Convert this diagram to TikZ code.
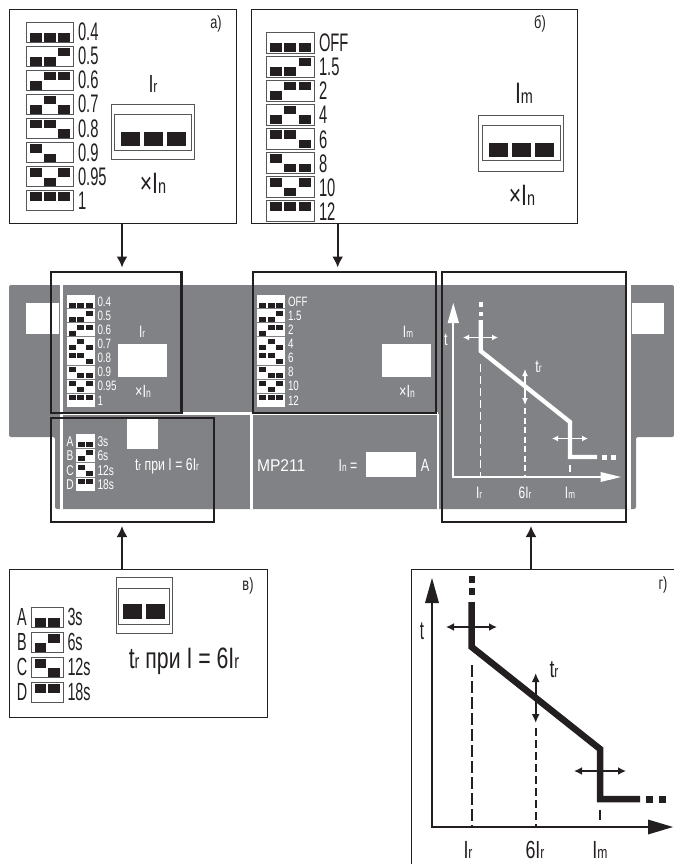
\documentclass[tikz,border=0pt]{standalone}
\usepackage{fontspec}
\usepackage{graphicx}
\usetikzlibrary{arrows.meta}
\setmainfont[FakeStretch=0.58]{Liberation Sans}
\newfontfamily\plainsans[FakeStretch=0.92]{Liberation Sans}
\newfontfamily\midfont[FakeStretch=0.72]{Liberation Sans}
\definecolor{panelgray}{HTML}{808285}
\definecolor{ink}{HTML}{231F20}
\definecolor{edge}{HTML}{55565A}
\newcommand\fs[1]{\pgfmathparse{#1*1.18}\fontsize{\pgfmathresult}{\pgfmathresult}\selectfont}
\newcommand\Sb[2]{#1\scalebox{.68}{#2}}
% rectangle node from corner coordinates: style, name, x1,y1,x2,y2
\newcommand\pxbox[6]{%
  \pgfmathsetmacro\pw{#5-#3}\pgfmathsetmacro\ph{#6-#4}%
  \node[#1,minimum width=\pw pt,minimum height=\ph pt,inner sep=0pt,outer sep=0pt,anchor=north west] (#2) at (#3,#4) {};}
% one switch square: x, rowtop, state, w, upoffset, h, downoffset
\newcommand\swq[7]{%
  \ifcase#3\relax
    \fill[ink] (#1,#2+#7) rectangle ++(#4,#6);%
  \or
    \fill[ink] (#1,#2+#5) rectangle ++(#4,#6);%
  \fi}
\tikzset{
  callout/.style={draw=ink,line width=0.9pt,fill=white},
  swframe/.style={draw=edge,line width=0.8pt,fill=white},
  hole/.style={fill=white},
  focus/.style={draw=ink,line width=2.4pt},
  link/.style={draw=ink,line width=1.9pt,-{Latex[length=11pt,width=11pt]}},
  txt/.style={inner sep=0pt,outer sep=0pt,text=ink},
  wtxt/.style={inner sep=0pt,outer sep=0pt,text=white},
}
\begin{document}
\begin{tikzpicture}[x=1pt,y=-1pt]
\useasboundingbox (0,0) rectangle (674,864);
% ---------- central gray panel
\fill[panelgray,rounded corners=2pt] (9,285)--(9,437)--(55,437)--(55,509)--(636,509)--(636,437)--(674,437)--(674,285)--cycle;
\fill[white] (60,285) rectangle (63,509);
\fill[white] (627,285) rectangle (631,509);
\fill[white] (63,412.3) rectangle (437.5,414.6);
\fill[white] (250.3,414) rectangle (252.8,509);
\fill[white] (437,414) rectangle (438.5,509);
\pxbox{hole}{holeL}{26}{303}{59}{334}
\pxbox{hole}{holeR}{632}{303}{664}{334}
\pxbox{hole}{holeIr}{118}{344}{167}{377}
\pxbox{hole}{holeIm}{382}{344}{431}{377}
\pxbox{hole}{holeIn}{366}{452}{416}{477}
\pxbox{hole}{holeT}{127}{419}{158}{449}
% panel switches Ir
\foreach \y/\a/\b/\c/\t [count=\i] in {295/0/0/0/0.4,309.1/0/0/1/0.5,323.2/0/1/1/0.6,337.3/0/1/0/0.7,351.4/1/1/0/0.8,365.5/1/0/0/0.9,379.6/1/0/1/0.95,393.7/1/1/1/1}{
  \fill[white] (67,\y) rectangle (95,\y+13.2);
  \swq{69}{\y}{\a}{7}{1.5}{5}{7.5}\swq{77.4}{\y}{\b}{7}{1.5}{5}{7.5}\swq{86}{\y}{\c}{7}{1.5}{5}{7.5}
  \node[wtxt,anchor=base west,font=\midfont\fs{11.5}] at (97.5,\y+11.3) {\t};
}
% panel switches Im
\foreach \y/\a/\b/\c/\t [count=\i] in {295/0/0/0/OFF,309.1/0/0/1/1.5,323.2/0/1/1/2,337.3/0/1/0/4,351.4/1/1/0/6,365.5/1/0/0/8,379.6/1/0/1/10,393.7/1/1/1/12}{
  \fill[white] (257,\y) rectangle (285,\y+13.2);
  \swq{258.8}{\y}{\a}{7}{1.5}{5}{7.5}\swq{267.5}{\y}{\b}{7}{1.5}{5}{7.5}\swq{276}{\y}{\c}{7}{1.5}{5}{7.5}
  \node[wtxt,anchor=base west,font=\midfont\fs{11.5}] at (288,\y+11.3) {\t};
}
% panel switches tr
\foreach \y/\a/\b/\l/\t [count=\i] in {434/0/0/A/3s,448.6/0/1/B/6s,463.2/1/0/C/12s,477.8/1/1/D/18s}{
  \fill[white] (76,\y) rectangle (95,\y+13.6);
  \swq{77.7}{\y}{\a}{7}{1.5}{5}{7.5}\swq{86}{\y}{\b}{7}{1.5}{5}{7.5}
  \node[wtxt,anchor=base,font=\midfont\fs{12}] at (70,\y+12) {\l};
  \node[wtxt,anchor=base west,font=\midfont\fs{12}] at (97.5,\y+12) {\t};
}
% panel texts
\node[wtxt,anchor=base,font=\midfont\fs{14}] (pIr) at (142,337) {\Sb{I}{r}};
\node[wtxt,anchor=base,font=\midfont\fs{15}] (pxIn) at (143,397) {×\Sb{I}{n}};
\node[wtxt,anchor=base,font=\midfont\fs{14}] (pIm) at (408,337) {\Sb{I}{m}};
\node[wtxt,anchor=base,font=\midfont\fs{15}] (pxIn2) at (407,397) {×\Sb{I}{n}};
\node[wtxt,anchor=base,font=\midfont\fs{14.5}] (ptr) at (167,470) {\Sb{t}{r} при I = 6\Sb{I}{r}};
\node[wtxt,anchor=base west,font=\plainsans\fs{14.4}] (pmp) at (257,471) {MP211};
\node[wtxt,anchor=base,font=\midfont\fs{14.5}] (pIn) at (348,471) {\Sb{I}{n} =};
\node[wtxt,anchor=base,font=\midfont\fs{15}] (pA) at (425,471) {A};
% panel chart
\draw[white,line width=2pt] (453.3,320)--(453.3,477)--(610,477);
\fill[white] (453.3,303)--(459,323)--(447.6,323)--cycle;
\fill[white] (621,477)--(600.5,472)--(600.5,482)--cycle;
\draw[white,line width=4.3pt,line join=miter] (480.7,320)--(480.7,351)--(570,422)--(570,457)--(597,457);
\fill[white] (478.5,302) rectangle (483,307);\fill[white] (478.5,312) rectangle (483,316);
\fill[white] (602,455) rectangle (606.5,459.5);\fill[white] (611,455) rectangle (615.5,459.5);
\draw[white,line width=1.5pt,dash pattern=on 8pt off 4pt] (480.7,364)--(480.7,477);
\draw[white,line width=1.5pt,dash pattern=on 6pt off 3.5pt] (525,408)--(525,477);
\draw[white,line width=1.5pt] (570,465)--(570,472);
\draw[white,line width=1.2pt,{Latex[length=6pt,width=6pt]}-{Latex[length=6pt,width=6pt]}] (463,337.5)--(498,337.5);
\draw[white,line width=1.2pt,{Latex[length=6pt,width=6pt]}-{Latex[length=6pt,width=6pt]}] (552,438.5)--(588,438.5);
\draw[white,line width=1.2pt,{Latex[length=7pt,width=6pt]}-{Latex[length=7pt,width=6pt]}] (525,369)--(525,405);
\node[wtxt,font=\midfont\fs{15}] (pt) at (446,340) {t};
\node[wtxt,font=\midfont\fs{15}] (ptr2) at (538.5,367) {\Sb{t}{r}};
\node[wtxt,anchor=base,font=\midfont\fs{14}] (pi1) at (479,498) {\Sb{I}{r}};
\node[wtxt,anchor=base,font=\midfont\fs{14}] (pi2) at (525,498) {6\Sb{I}{r}};
\node[wtxt,anchor=base,font=\midfont\fs{14}] (pi3) at (570,498) {\Sb{I}{m}};
% focus frames
\pxbox{focus}{frA}{51}{272}{181.5}{412.7}
\pxbox{focus}{frV}{51}{418}{214}{522}
\pxbox{focus}{frB}{253}{272}{436}{413}
\pxbox{focus}{frG}{442}{272}{626}{522}
% ---------- callout a
\pxbox{callout}{boxA}{9}{9}{236}{223}
\foreach \y/\a/\b/\c/\t [count=\i] in {22/0/0/0/0.4,46/0/0/1/0.5,70/0/1/1/0.6,94/0/1/0/0.7,118/1/1/0/0.8,142/1/0/2/0.9,166/1/0/1/0.95,190/1/1/1/1}{
  \draw[swframe] (26.5,\y) rectangle (73,\y+20.5);
  \swq{30}{\y}{\a}{12}{2}{8.5}{11.5}\swq{44}{\y}{\b}{12}{2}{8.5}{11.5}\swq{58}{\y}{\c}{12}{2}{8.5}{11.5}
  \node[txt,anchor=base west,font=\fs{21.5}] at (78,\y+19) {\t};
}
\pxbox{swframe}{bigA}{111}{104}{194}{159}
\pxbox{swframe}{bigAi}{114.5}{114}{191.5}{150}
\fill[ink] (121,132) rectangle (140,146);\fill[ink] (144,132) rectangle (163,146);\fill[ink] (167,132) rectangle (186,146);
\node[txt,anchor=base,font=\midfont\fs{21}] (aIr) at (153,93) {\Sb{I}{r}};
\node[txt,anchor=base,font=\midfont\fs{25}] (axIn) at (153,193) {×\Sb{I}{n}};
\node[txt,font=\midfont\fs{15}] (aTag) at (216,24) {а)};
% ---------- callout b
\pxbox{callout}{boxB}{251}{9}{577}{223}
\foreach \y/\a/\b/\c/\t [count=\i] in {32/0/0/0/OFF,56/0/0/1/1.5,80/0/1/1/2,104/0/1/0/4,128/1/1/0/6,152/1/0/0/8,176/1/0/1/10,200/1/1/1/12}{
  \draw[swframe] (266.5,\y) rectangle (314,\y+21.5);
  \swq{270}{\y}{\a}{12}{2}{8.5}{11.5}\swq{284}{\y}{\b}{12}{2}{8.5}{11.5}\swq{299}{\y}{\c}{12}{2}{8.5}{11.5}
  \node[txt,anchor=base west,font=\fs{21.5}] at (319,\y+20) {\t};
}
\pxbox{swframe}{bigB}{478.5}{115}{563.5}{171}
\pxbox{swframe}{bigBi}{482.5}{125.5}{560}{160}
\fill[ink] (489,143) rectangle (508,157);\fill[ink] (512,143) rectangle (531,157);\fill[ink] (535,143) rectangle (554,157);
\node[txt,anchor=base,font=\midfont\fs{25}] (bIm) at (524,103.5) {\Sb{I}{m}};
\node[txt,anchor=base,font=\midfont\fs{25}] (bxIn) at (522,205.5) {×\Sb{I}{n}};
\node[txt,font=\midfont\fs{15}] (bTag) at (540,24) {б)};
% ---------- callout v
\pxbox{callout}{boxV}{9}{569}{267}{717}
\foreach \y/\a/\b/\l/\t [count=\i] in {607/0/0/A/3s,632/0/1/B/6s,657/1/0/C/12s,682/1/1/D/18s}{
  \draw[swframe] (31.5,\y) rectangle (63,\y+20);
  \swq{34.5}{\y}{\a}{11.5}{2}{8.5}{11}\swq{48}{\y}{\b}{11.5}{2}{8.5}{11}
  \node[txt,anchor=base,font=\fs{21}] at (22,\y+18.5) {\l};
  \node[txt,anchor=base west,font=\fs{21}] at (67.5,\y+18.5) {\t};
}
\pxbox{swframe}{bigV}{116}{577.5}{172}{633}
\pxbox{swframe}{bigVi}{118.5}{588}{169.5}{624}
\fill[ink] (123,604) rectangle (142,619);\fill[ink] (146,604) rectangle (165,619);
\node[txt,anchor=base,font=\midfont\fs{25}] (vtr) at (184,668) {\Sb{t}{r} при I = 6\Sb{I}{r}};
\node[txt,font=\midfont\fs{15}] (vTag) at (248,586) {в)};
% ---------- callout g
\draw[ink,line width=0.9pt] (674,569.5) -- (411,569.5) -- (411,864);
\coordinate (boxG) at (531,569.5);
\draw[ink,line width=2.8pt] (432,600)--(432,827)--(650,827);
\fill[ink] (432,578)--(439,603)--(425,603)--cycle;
\fill[ink] (673,827)--(648,819.5)--(648,834.5)--cycle;
\draw[ink,line width=6.5pt,line join=miter] (471.7,602)--(471.7,647)--(600,749)--(600,799)--(640,799);
\fill[ink] (468.5,576) rectangle (475,583);\fill[ink] (468.5,588) rectangle (475,595);
\fill[ink] (646,796) rectangle (653,802.5);\fill[ink] (659,796) rectangle (666,802.5);
\draw[ink,line width=1.8pt,dash pattern=on 12pt off 4pt] (471.7,665)--(471.7,827);
\draw[ink,line width=1.8pt,dash pattern=on 8pt off 4pt] (535.7,728)--(535.7,827);
\draw[ink,line width=1.8pt] (600,810)--(600,820);
\draw[ink,line width=1.6pt,{Latex[length=8pt,width=8pt]}-{Latex[length=8pt,width=8pt]}] (446,627)--(497,627);
\draw[ink,line width=1.6pt,{Latex[length=8pt,width=8pt]}-{Latex[length=8pt,width=8pt]}] (574,771)--(626,771);
\draw[ink,line width=1.6pt,{Latex[length=9pt,width=8pt]}-{Latex[length=9pt,width=8pt]}] (535.7,673)--(535.7,723);
\node[txt,font=\fs{22}] (gt) at (422,631) {t};
\node[txt,font=\midfont\fs{21}] (gtr) at (554,670) {\Sb{t}{r}};
\node[txt,anchor=base,font=\midfont\fs{21}] (gi1) at (468,858) {\Sb{I}{r}};
\node[txt,anchor=base,font=\midfont\fs{21}] (gi2) at (535,858) {6\Sb{I}{r}};
\node[txt,anchor=base,font=\midfont\fs{21}] (gi3) at (600,858) {\Sb{I}{m}};
\node[txt,font=\midfont\fs{15}] (gTag) at (663,585) {г)};
% ---------- connectors
\coordinate (xa) at (122,0);\coordinate (xb) at (337.7,0);\coordinate (xg) at (531,0);
\draw[link] (boxA.south -| xa) -- (122,267.5);
\draw[link] (boxB.south -| xb) -- (337.7,267.5);
\draw[link] (boxV.north -| xa) -- (122,526);
\draw[link] (boxG) -- (531,526);
\end{tikzpicture}
\end{document}
